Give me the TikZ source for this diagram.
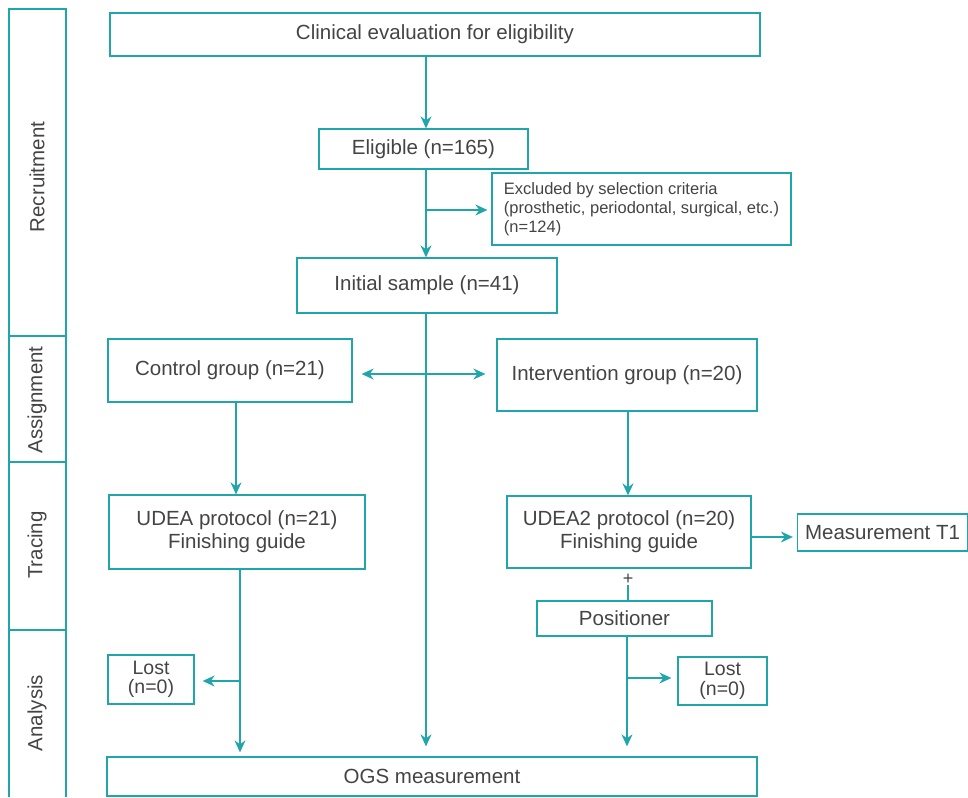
\documentclass[tikz,border=0pt]{standalone}
\usepackage{fontspec}
\setmainfont{Liberation Sans}
\usetikzlibrary{arrows.meta}
\definecolor{teal1}{HTML}{1FA5AA}
\definecolor{txt}{HTML}{444444}
\begin{document}
\begin{tikzpicture}[x=1pt,y=-1pt,
  box/.style={draw=teal1,line width=1.3pt,inner sep=2pt,align=center,text=txt,font=\fontsize{20.5}{23}\selectfont},
  smallbox/.style={box,align=left,font=\fontsize{16.5}{19}\selectfont},
  lostbox/.style={box,font=\fontsize{19.5}{19.5}\selectfont},
  sidelabel/.style={rotate=90,text=txt,font=\fontsize{20.5}{23}\selectfont},
  conn/.style={draw=teal1,line width=1.3pt},
  tip/.tip={Stealth[length=12pt,width=11pt,inset=4pt]},
  arr/.style={conn,-tip},
  darr/.style={conn,tip-tip}]
\useasboundingbox (0,0) rectangle (968,797);
% sidebar
\draw[conn] (9,797) -- (9,9) -- (66,9) -- (66,797);
\draw[conn] (9,336) -- (66,336);
\draw[conn] (9,462) -- (66,462);
\draw[conn] (9,630) -- (66,630);
\node[sidelabel] (lrec) at (37,177) {Recruitment};
\node[sidelabel] (lass) at (37,400) {Assignment};
\node[sidelabel] (ltra) at (37,545) {Tracing};
\node[sidelabel] (lana) at (37,713) {Analysis};
% boxes
\node[box,minimum width=650pt,minimum height=43pt] (clin) at (435,34.5) {Clinical evaluation for eligibility};
\node[box,minimum width=209pt,minimum height=40pt] (elig) at (423.5,149) {Eligible (n=165)};
\node[smallbox,minimum width=299pt,minimum height=72pt] (excl) at (641.5,209) {Excluded by selection criteria\\(prosthetic, periodontal, surgical, etc.)\\(n=124)};
\node[box,minimum width=260pt,minimum height=55pt] (init) at (427,285.5) {Initial sample (n=41)};
\node[box,minimum width=244pt,minimum height=63pt] (ctrl) at (230,370.5) {Control group (n=21)};
\node[box,minimum width=260pt,minimum height=72pt] (intv) at (627,375) {Intervention group (n=20)};
\node[box,minimum width=256pt,minimum height=74pt] (udea) at (237,532) {UDEA protocol (n=21)\\Finishing guide};
\node[box,minimum width=244pt,minimum height=72pt] (udea2) at (629,532) {UDEA2 protocol (n=20)\\Finishing guide};
\node[box,minimum width=170pt,minimum height=37pt] (meas) at (882.5,532.5) {Measurement T1};
\node[text=txt,font=\fontsize{18}{19}\selectfont,inner sep=1pt] (plus) at (628,579) {+};
\node[box,minimum width=175pt,minimum height=35pt] (pos) at (624.5,618.5) {Positioner};
\node[lostbox,minimum width=86pt,minimum height=49pt] (lostl) at (151,679.5) {Lost\\(n=0)};
\node[lostbox,minimum width=89pt,minimum height=48pt] (lostr) at (722.5,681) {Lost\\(n=0)};
\node[box,minimum width=650pt,minimum height=39pt] (ogs) at (432,776.5) {OGS measurement};
% guide coordinates
\coordinate (xm) at (426,0);
\coordinate (xl) at (240,0);
\coordinate (xc) at (236,0);
\coordinate (xr) at (627,0);
\coordinate (xi) at (628,0);
\coordinate (yex) at (0,210);
\coordinate (yda) at (0,374);
\coordinate (yll) at (0,681);
\coordinate (ylr) at (0,678);
\coordinate (ym) at (0,537);
% connectors
\draw[arr] (clin.south -| xm) -- (elig.north -| xm);
\draw[arr] (elig.south -| xm) -- (init.north -| xm);
\draw[arr] (xm |- yex) -- ([xshift=-4pt]excl.west |- yex);
\draw[arr] (init.south -| xm) -- ([yshift=10pt]ogs.north -| xm);
\draw[darr] ([xshift=9pt]ctrl.east |- yda) -- ([xshift=-11pt]intv.west |- yda);
\draw[arr] (ctrl.south -| xc) -- (udea.north -| xc);
\draw[arr] (intv.south -| xi) -- (udea2.north -| xi);
\draw[arr] (udea.south -| xl) -- ([yshift=4pt]ogs.north -| xl);
\draw[arr] (xl |- yll) -- ([xshift=8pt]lostl.east |- yll);
\draw[arr] (udea2.east |- ym) -- ([xshift=-4pt]meas.west |- ym);
\draw[conn] (plus.south -| xi) -- (pos.north -| xi);
\draw[arr] (pos.south -| xr) -- ([yshift=10pt]ogs.north -| xr);
\draw[arr] (xr |- ylr) -- ([xshift=-6pt]lostr.west |- ylr);
\end{tikzpicture}
\end{document}
